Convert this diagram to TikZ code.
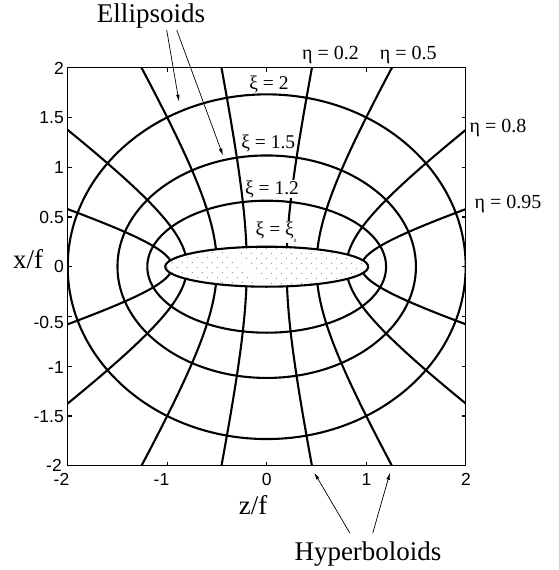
\documentclass[tikz,border=0pt]{standalone}
\usepackage{fontspec}
\usepackage{graphicx}
\setmainfont{Liberation Serif}
\newfontfamily\tickfont{Liberation Sans}
\usetikzlibrary{arrows.meta,patterns.meta}
\begin{document}
\begin{tikzpicture}[x=1pt,y=-1pt,
  gridline/.style={line width=2.1pt,line join=round},
  framebox/.style={line width=1.3pt},
  ticklbl/.style={inner sep=0pt,font=\tickfont\fontsize{17.5}{18}\selectfont},
  xilbl/.style={inner sep=0.6pt,font=\fontsize{19.5}{20}\selectfont},
  etalbl/.style={inner sep=0pt,font=\fontsize{20}{21}\selectfont},
  biglbl/.style={inner sep=0pt,font=\fontsize{27}{28}\selectfont},
  pointer/.style={line width=0.7pt,-{Latex[length=7pt,width=3.6pt]}}]
\useasboundingbox (0,0) rectangle (559,570);

% ---- plot area (plot units, origin at centre) ----
\begin{scope}[shift={(266.7pt,-266.7pt)},x=99.5pt,y=99.5pt]
  \begin{scope}
    \clip (-2,-2) rectangle (2,2);
    % ellipsoids
    \draw[gridline] (0,0) ellipse [x radius=2,y radius=1.7321];
    \draw[gridline] (0,0) ellipse [x radius=1.5,y radius=1.1180];
    \draw[gridline] (0,0) ellipse [x radius=1.2,y radius=0.6633];
    % hyperboloids
    \foreach \e/\s in {0.2/0.9798,0.5/0.8660,0.8/0.6,0.95/0.3122}{
      \foreach \a in {1,-1}{
        \foreach \b in {1,-1}{
          \draw[gridline] plot[domain=0.1996:1.62,samples=60,variable=\u]
            ({\a*\e*cosh(\u)},{\b*\s*sinh(\u)});
        }
      }
    }
  \end{scope}
  % shaded spheroid xi = xi_0
  \fill[white] (0,0) ellipse [x radius=1.02,y radius=0.2010];
  \fill[pattern={Dots[radius=0.55pt,distance=7.4pt,angle=45]},pattern color=black!70]
    (0,0) ellipse [x radius=1.02,y radius=0.2010];
  \draw[gridline] (0,0) ellipse [x radius=1.02,y radius=0.2010];
  % frame and ticks
  \draw[framebox] (-2,-2) rectangle (2,2);
  \foreach \v in {-1,0,1}{
    \draw[framebox] (\v,-2) -- ++(0,0.04);
    \draw[framebox] (\v,2) -- ++(0,-0.04);
  }
  \foreach \v in {-1.5,-1,-0.5,0,0.5,1,1.5}{
    \draw[framebox] (-2,\v) -- ++(0.04,0);
    \draw[framebox] (2,\v) -- ++(-0.04,0);
  }
\end{scope}

% ---- tick labels ----
\node[ticklbl,anchor=east] (ly1) at (64,68.5) {2};
\node[ticklbl,anchor=east] (ly2) at (64,118) {1.5};
\node[ticklbl,anchor=east] (ly3) at (64,167.5) {1};
\node[ticklbl,anchor=east] (ly4) at (64,217.5) {0.5};
\node[ticklbl,anchor=east] (ly5) at (64,266.5) {0};
\node[ticklbl,anchor=east] (ly6) at (64,322.5) {-0.5};
\node[ticklbl,anchor=east] (ly7) at (64,367) {-1};
\node[ticklbl,anchor=east] (ly8) at (64,417) {-1.5};
\node[ticklbl,anchor=east] (ly9) at (62,465) {-2};
\node[ticklbl,anchor=north] (lx1) at (61.5,473.5) {-2};
\node[ticklbl,anchor=north] (lx2) at (161.5,473.5) {-1};
\node[ticklbl,anchor=north] (lx3) at (266.7,473.5) {0};
\node[ticklbl,anchor=north] (lx4) at (366.5,473.5) {1};
\node[ticklbl,anchor=north] (lx5) at (466,473.5) {2};

% ---- axis titles ----
\node[biglbl,anchor=base] (xtitle) at (28,268) {x/f};
\node[biglbl,anchor=base] (ztitle) at (253,514) {z/f};

% ---- xi labels ----
\node[xilbl,anchor=base] (xi2) at (269,89) {ξ = 2};
\node[xilbl,anchor=base,fill=white] (xi15) at (268.3,148.3) {ξ = 1.5};
\node[xilbl,anchor=base,fill=white] (xi12) at (272,194) {ξ = 1.2};
\node[xilbl,anchor=base,fill=white] (xi0) at (276,235.7)
  {ξ = ξ\raisebox{-7pt}{\fontsize{5}{5}\selectfont 0}};

% ---- eta labels ----
\node[etalbl,anchor=base] (eta02) at (330.5,59) {η = 0.2};
\node[etalbl,anchor=base] (eta05) at (408.3,59) {η = 0.5};
\node[etalbl,anchor=base west] (eta08) at (469.5,132.3) {η = 0.8};
\node[etalbl,anchor=base west] (eta095) at (474.5,208.3) {η = 0.95};

% ---- family labels with pointers ----
\node[biglbl,anchor=base] (ellips) at (151,23) {Ellipsoids};
\node[biglbl,anchor=base] (hyperb) at (368,560) {Hyperboloids};
\coordinate (ellA) at (166.7,30);
\coordinate (ellB) at (176.7,30);
\coordinate (ellAtip) at (179,101.7);
\coordinate (ellBtip) at (223,155.5);
\draw[pointer] (ellA) -- (ellAtip);
\draw[pointer] (ellB) -- (ellBtip);
\coordinate (hypA) at (350,533.3);
\coordinate (hypB) at (372.7,533.3);
\coordinate (hypAtip) at (314.3,472.7);
\coordinate (hypBtip) at (390,472.7);
\draw[pointer] (hypA) -- (hypAtip);
\draw[pointer] (hypB) -- (hypBtip);
\end{tikzpicture}
\end{document}
